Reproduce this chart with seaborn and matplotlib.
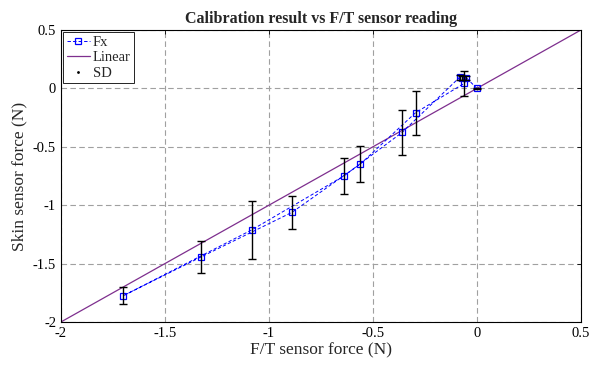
import numpy as np
import pandas as pd
import seaborn as sns
import matplotlib.pyplot as plt
from matplotlib.lines import Line2D

# F/T sensor force vs skin sensor force (loading then unloading)
ft_force = [0.0, -0.05, -0.06, -0.295, -0.56, -0.889, -1.326, -1.70,
            -1.083, -0.64, -0.359, -0.083, -0.07]
skin_force = [0.0, 0.09, 0.044, -0.208, -0.647, -1.061, -1.443, -1.775,
              -1.212, -0.75, -0.376, 0.095, 0.09]
skin_sd = [0.005, 0.02, 0.107, 0.19, 0.154, 0.14, 0.14, 0.075,
           0.25, 0.15, 0.19, 0.02, 0.02]

linear_x = [-2, 0.5]
linear_y = [-2, 0.5]

x_ticks = [-2, -1.5, -1, -0.5, 0, 0.5]
y_ticks = [-2, -1.5, -1, -0.5, 0, 0.5]

df = pd.DataFrame({"ft": ft_force, "skin": skin_force, "sd": skin_sd})
lin = pd.DataFrame({"x": linear_x, "y": linear_y})

sns.set_style("white")
plt.rcParams['font.family'] = ['Liberation Serif', 'DejaVu Serif']

fig = plt.figure(figsize=(5.97, 3.67), dpi=100)
ax = fig.add_axes([0.102, 0.1226, 0.871, 0.7956])

fx_dash = (0, (3.5, 2.2))
sns.lineplot(data=df, x="ft", y="skin", sort=False, ax=ax, color="blue",
             linestyle=fx_dash, linewidth=0.7, marker="s", markersize=4,
             markerfacecolor="none", markeredgecolor="blue", markeredgewidth=0.9,
             estimator=None, zorder=3)
sns.lineplot(data=lin, x="x", y="y", ax=ax, color="#7E2F8E", linewidth=0.9,
             estimator=None, zorder=2)
ax.errorbar(df["ft"], df["skin"], yerr=df["sd"], fmt="none", ecolor="black",
            elinewidth=1.0, capsize=3, capthick=1.0, zorder=4)

ax.set_xlim(-2, 0.5)
ax.set_ylim(-2, 0.5)
ax.set_xticks(x_ticks)
ax.set_yticks(y_ticks)
ax.set_xticklabels([f"{t:g}" for t in x_ticks])
ax.set_yticklabels([f"{t:g}" for t in y_ticks])
ax.grid(True, linestyle=(0, (5, 3)), color="#a0a0a0", linewidth=0.8)
ax.tick_params(direction="in", top=True, right=True, length=3,
               labelsize=10.5, colors="black", width=0.6)
for s in ax.spines.values():
    s.set_color("black")
    s.set_linewidth(0.8)

ax.set_title("Calibration result vs F/T sensor reading", fontsize=11.5,
             fontweight="bold", pad=5)
ax.set_xlabel("F/T sensor force (N)", fontsize=12.5, labelpad=2)
ax.set_ylabel("Skin sensor force (N)", fontsize=12.5, labelpad=4)

handles = [
    Line2D([], [], color="blue", linestyle=fx_dash, linewidth=0.7, marker="s",
           markersize=4, markerfacecolor="none", markeredgewidth=0.9),
    Line2D([], [], color="#7E2F8E", linewidth=0.9),
    Line2D([], [], color="black", linestyle="none", marker=".", markersize=2),
]
leg = ax.legend(handles, ["Fx", "Linear", "SD"], loc="upper left",
                fontsize=10.5, frameon=True, fancybox=False, edgecolor="black",
                framealpha=1, handlelength=1.6, handletextpad=0.2,
                borderpad=0.25, labelspacing=0.15, borderaxespad=0.15)
leg.get_frame().set_linewidth(0.6)

fig.savefig("out.png", dpi=100)
